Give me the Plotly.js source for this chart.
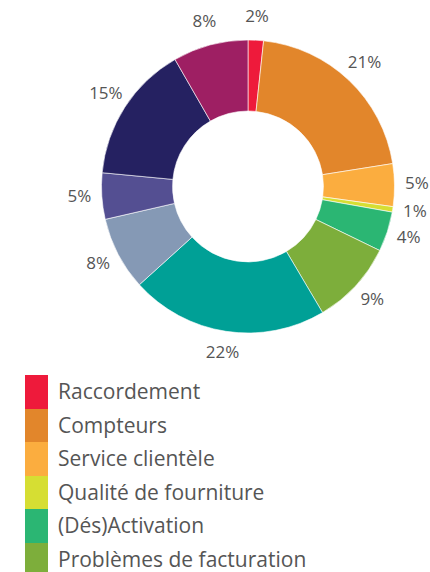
<!DOCTYPE html>
<html>
<head>
<meta charset="utf-8">
<script src="https://cdn.plot.ly/plotly-3.0.1.min.js"></script>
<style>html,body{margin:0;padding:0;background:#fff;overflow:hidden}#chart{width:430px;height:572px}</style>
</head>
<body>
<div id="chart"></div>
<script>
var categories = ["Raccordement", "Compteurs", "Service clientèle", "Qualité de fourniture", "(Dés)Activation", "Problèmes de facturation", "Relevés d'index", "Déménagement", "Travaux", "Données de consommation", "Autres"];
// slice sizes (percent)
var shares = [1.7, 20.8, 4.7, 0.6, 4.4, 9.3, 21.8, 8.1, 5.1, 15.2, 8.3];
// percentages printed on the chart
var shareLabels = ["2%", "21%", "5%", "1%", "4%", "9%", "22%", "8%", "5%", "15%", "8%"];
var colors = ["#EE1A3B", "#E2862B", "#FBAD3F", "#D6DE33", "#2BB673", "#7DAE3B", "#00A096", "#8599B5", "#544F92", "#252161", "#9E1F63"];
var swatchLength = categories.map(function(){ return 1; });

var W = 430, H = 572;
var cx = 248, cy = 186.5, R = 146.5, labelR = 169, PR = 182;

var pieDomain = {x: [(cx - R) / W, (cx + R) / W], y: [(H - cy - R) / H, (H - cy + R) / H]};
var polarDomain = {x: [(cx - PR) / W, (cx + PR) / W], y: [(H - cy - PR) / H, (H - cy + PR) / H]};

var total = shares.reduce(function(a, b){ return a + b; }, 0);
var midAngles = [], acc = 0;
shares.forEach(function(v){ midAngles.push((acc + v / 2) / total * 360); acc += v; });

var pie = {
  type: "pie",
  labels: categories,
  values: shares,
  sort: false,
  direction: "clockwise",
  rotation: 0,
  hole: 0.515,
  marker: {colors: colors, line: {color: "#ffffff", width: 0.6}},
  textinfo: "none",
  showlegend: false,
  hoverinfo: "label+text",
  text: shareLabels,
  domain: pieDomain
};

var pieLabels = {
  type: "scatterpolar",
  subplot: "polar",
  mode: "text",
  theta: midAngles,
  r: categories.map(function(){ return labelR; }),
  text: shareLabels,
  textposition: "middle center",
  textfont: {family: "Open Sans", size: 17, color: "#555555"},
  cliponaxis: false,
  hoverinfo: "skip",
  showlegend: false
};

var legendBars = {
  type: "bar",
  orientation: "h",
  y: categories,
  x: swatchLength,
  marker: {color: colors, line: {width: 0}},
  xaxis: "x",
  yaxis: "y",
  hoverinfo: "skip",
  showlegend: false
};

var legendTop = 375, rowH = 33.5;
var visibleRows = (H - legendTop) / rowH;

var layout = {
  width: W, height: H,
  margin: {l: 0, r: 0, t: 0, b: 0},
  paper_bgcolor: "#ffffff",
  plot_bgcolor: "rgba(0,0,0,0)",
  bargap: 0,
  showlegend: false,
  polar: {
    domain: polarDomain,
    bgcolor: "rgba(0,0,0,0)",
    radialaxis: {range: [0, PR], visible: false},
    angularaxis: {rotation: 90, direction: "clockwise", visible: false}
  },
  xaxis: {domain: [25 / W, 48 / W], range: [0, 1], visible: false, fixedrange: true},
  yaxis: {
    domain: [0, (H - legendTop) / H],
    type: "category",
    range: [visibleRows - 0.5, -0.5],
    autorange: false,
    side: "right",
    showgrid: false, zeroline: false, showline: false,
    ticks: "",
    ticklabelstandoff: 9,
    tickfont: {family: "Open Sans", size: 21, color: "#555555"},
    fixedrange: true
  }
};

Plotly.newPlot("chart", [pie, pieLabels, legendBars], layout, {displayModeBar: false, staticPlot: true});
</script>
</body>
</html>
